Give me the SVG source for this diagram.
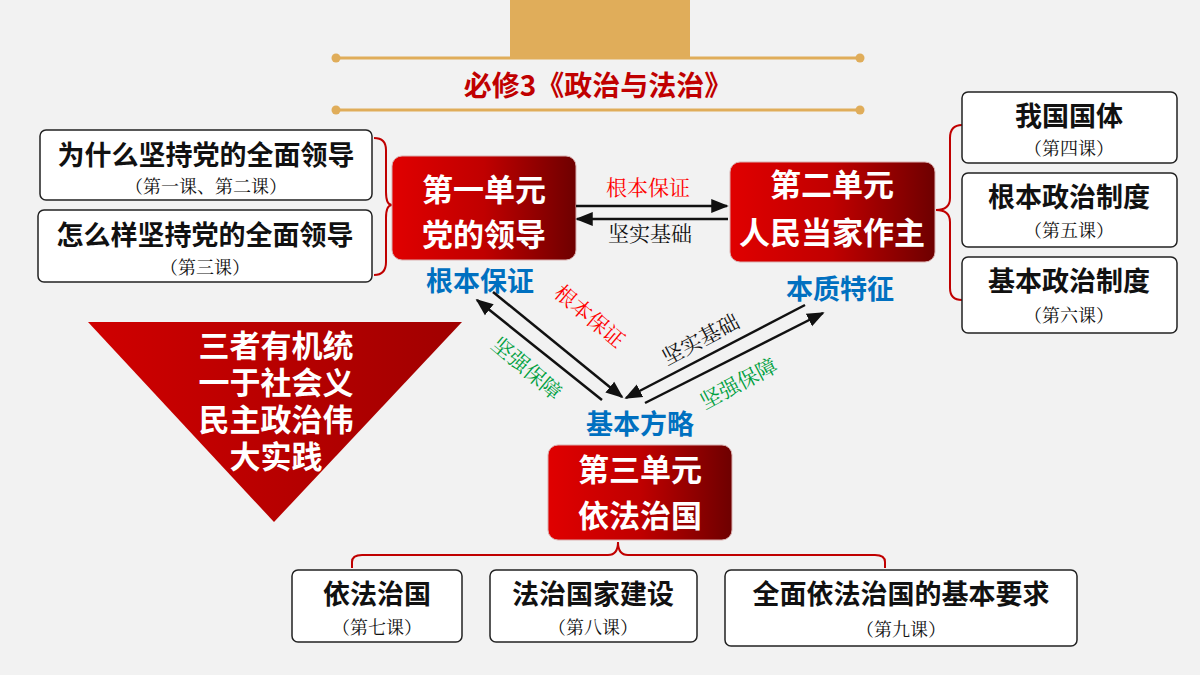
<svg xmlns="http://www.w3.org/2000/svg" width="1200" height="675" viewBox="0 0 1200 675">
<defs>
<linearGradient id="rg" x1="0" y1="0" x2="1" y2="0"><stop offset="0" stop-color="#e00000"/><stop offset="0.5" stop-color="#c00000"/><stop offset="1" stop-color="#6e0000"/></linearGradient>
<linearGradient id="tg" x1="0" y1="0" x2="1" y2="0"><stop offset="0" stop-color="#d00000"/><stop offset="1" stop-color="#a00000"/></linearGradient>
<marker id="ah" viewBox="0 0 10 10" refX="9" refY="5" markerWidth="7" markerHeight="7" orient="auto-start-reverse"><path d="M0,1 L10,5 L0,9 z" fill="#111"/></marker>
<style>
.sans{font-family:"Noto Sans CJK SC","Noto Sans",sans-serif;font-weight:bold}
.serif{font-family:"Noto Serif CJK SC","Liberation Serif","Noto Sans CJK SC",serif}
.box{fill:#fff;stroke:#222;stroke-width:1.5}
.unit{fill:url(#rg);stroke:#d9b0b0;stroke-width:1}
.wt{fill:#fff;font-size:31px;text-anchor:middle}
.bt{fill:#111;font-size:27px;text-anchor:middle}
.st{fill:#111;font-size:18px;text-anchor:middle}
.blue{fill:#0070c0;font-size:27px;text-anchor:middle}
.lab{font-size:21px;text-anchor:middle}
.br{fill:none;stroke:#c00000;stroke-width:2}
.ln{stroke:#111;stroke-width:2.5;marker-end:url(#ah)}
</style>
</defs>
<rect width="1200" height="675" fill="#f2f2f2"/>
<g id="header">
<rect x="510" y="0" width="180" height="58" fill="#e0ad5a"/>
<line x1="336" y1="58" x2="860" y2="58" stroke="#e0ad5a" stroke-width="3"/>
<line x1="336" y1="110" x2="860" y2="110" stroke="#e0ad5a" stroke-width="3"/>
<circle cx="336" cy="58" r="4.5" fill="#e0ad5a"/><circle cx="860" cy="58" r="4.5" fill="#e0ad5a"/>
<circle cx="336" cy="110" r="4.5" fill="#e0ad5a"/><circle cx="860" cy="110" r="4.5" fill="#e0ad5a"/>
<text x="598" y="96" class="sans" font-size="28" fill="#c00000" text-anchor="middle">必修3《政治与法治》</text>
</g>
<g id="left-boxes">
<rect x="40" y="130" width="332" height="70" rx="6" class="box"/>
<text x="206" y="165" class="sans bt">为什么坚持党的全面领导</text>
<text x="206" y="193" class="serif st">（第一课、第二课）</text>
<rect x="38" y="210" width="334" height="72" rx="6" class="box"/>
<text x="205" y="245" class="sans bt">怎么样坚持党的全面领导</text>
<text x="205" y="274" class="serif st">（第三课）</text>
<path class="br" d="M374,138 Q386,138 386,150 L386,192 Q386,205 392,205 Q386,205 386,218 L386,262 Q386,275 374,275"/>
</g>
<g id="unit1">
<rect x="392" y="156" width="184" height="104" rx="10" class="unit"/>
<text x="484" y="201" class="sans wt">第一单元</text>
<text x="484" y="246" class="sans wt">党的领导</text>
<text x="480" y="291" class="sans blue">根本保证</text>
</g>
<g id="unit2">
<rect x="730" y="162" width="205" height="100" rx="10" class="unit"/>
<text x="832" y="196" class="sans wt" font-size="29">第二单元</text>
<text x="832" y="244" class="sans wt" font-size="29">人民当家作主</text>
<text x="840" y="299" class="sans blue">本质特征</text>
</g>
<g id="right-boxes">
<path class="br" d="M962,125 Q950,125 950,138 L950,198 Q950,210 936,210 Q950,210 950,222 L950,288 Q950,300 962,300"/>
<rect x="962" y="92" width="215" height="71" rx="6" class="box"/>
<text x="1069" y="126" class="sans bt">我国国体</text>
<text x="1069" y="155" class="serif st">（第四课）</text>
<rect x="962" y="173" width="215" height="74" rx="6" class="box"/>
<text x="1069" y="207" class="sans bt">根本政治制度</text>
<text x="1069" y="237" class="serif st">（第五课）</text>
<rect x="962" y="257" width="215" height="76" rx="6" class="box"/>
<text x="1069" y="291" class="sans bt">基本政治制度</text>
<text x="1069" y="322" class="serif st">（第六课）</text>
</g>
<g id="triangle">
<polygon points="88,322 462,322 274,522" fill="url(#tg)"/>
<text x="276" y="357" class="sans wt" font-size="27">三者有机统</text>
<text x="276" y="394" class="sans wt" font-size="27">一于社会义</text>
<text x="276" y="431" class="sans wt" font-size="27">民主政治伟</text>
<text x="276" y="468" class="sans wt" font-size="27">大实践</text>
</g>
<g id="unit3">
<text x="640" y="434" class="sans blue">基本方略</text>
<rect x="548" y="445" width="184" height="95" rx="10" class="unit"/>
<text x="640" y="481" class="sans wt" font-size="29">第三单元</text>
<text x="640" y="527" class="sans wt" font-size="29">依法治国</text>
</g>
<g id="bottom-boxes">
<path class="br" d="M352,568 L352,562 Q352,555 362,555 L608,555 Q618,555 618,542 Q618,555 628,555 L875,555 Q885,555 885,562 L885,568"/>
<rect x="292" y="570" width="170" height="72" rx="6" class="box"/>
<text x="377" y="604" class="sans bt">依法治国</text>
<text x="377" y="634" class="serif st">（第七课）</text>
<rect x="490" y="570" width="207" height="72" rx="6" class="box"/>
<text x="593" y="604" class="sans bt">法治国家建设</text>
<text x="593" y="634" class="serif st">（第八课）</text>
<rect x="725" y="570" width="352" height="76" rx="6" class="box"/>
<text x="901" y="604" class="sans bt">全面依法治国的基本要求</text>
<text x="901" y="636" class="serif st">（第九课）</text>
</g>
<g id="connectors">
<line x1="576" y1="206" x2="727" y2="206" class="ln"/>
<line x1="728" y1="219" x2="577" y2="219" class="ln"/>
<line x1="493" y1="292" x2="622" y2="397" class="ln"/>
<line x1="602" y1="400" x2="477" y2="300" class="ln"/>
<line x1="805" y1="305" x2="626" y2="398" class="ln"/>
<line x1="645" y1="403" x2="823" y2="313" class="ln"/>
<text x="648" y="195" class="serif lab" fill="#ff0000">根本保证</text>
<text x="650" y="241" class="serif lab" fill="#111">坚实基础</text>
<text transform="translate(585,322) rotate(40)" class="serif lab" fill="#ff0000">根本保证</text>
<text transform="translate(522,374) rotate(40)" class="serif lab" fill="#00a040">坚强保障</text>
<text transform="translate(704,346) rotate(-28)" class="serif lab" fill="#111">坚实基础</text>
<text transform="translate(742,390) rotate(-28)" class="serif lab" fill="#00a040">坚强保障</text>
</g>
</svg>
